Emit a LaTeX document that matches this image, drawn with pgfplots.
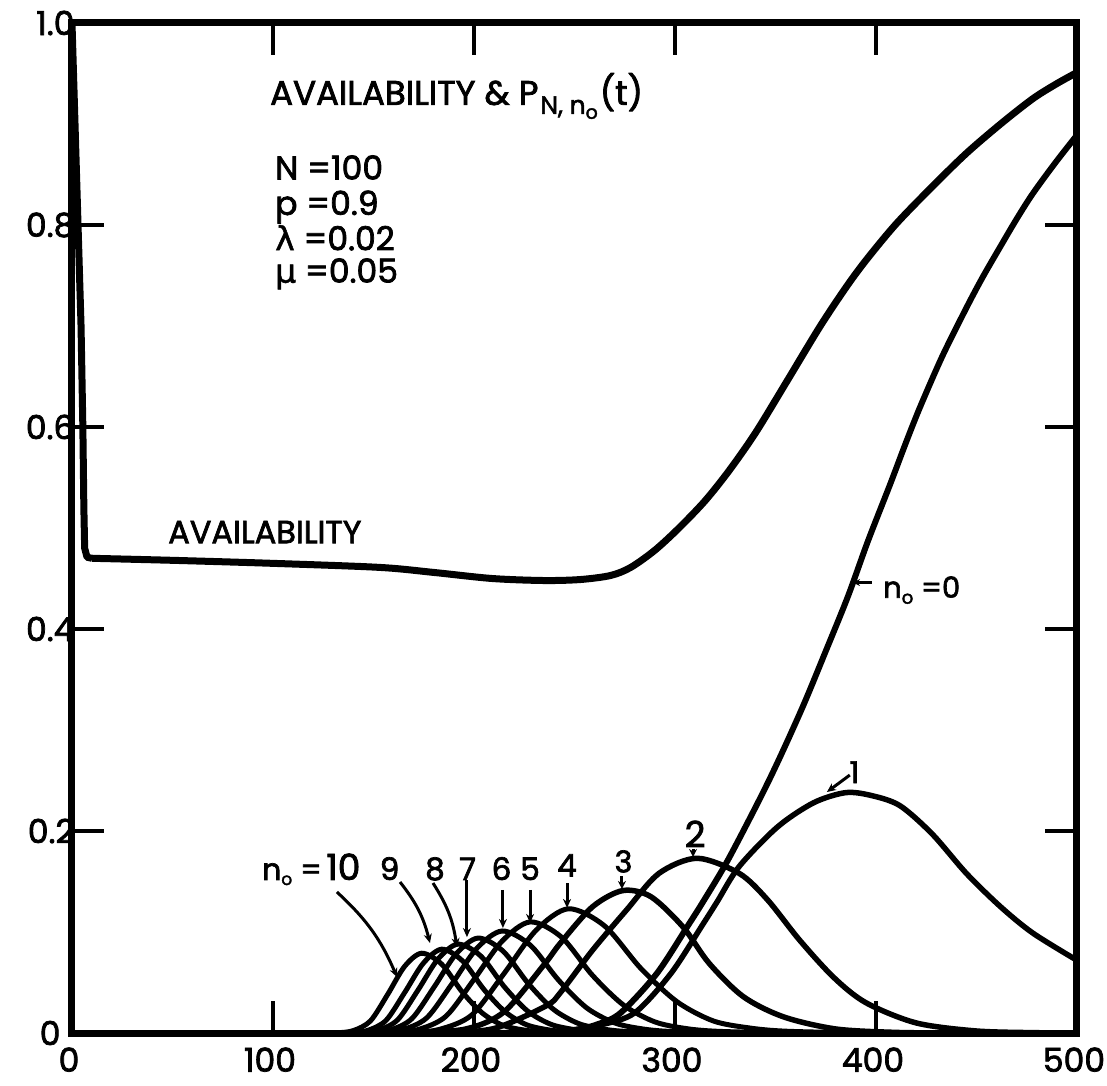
\documentclass[border=0pt]{standalone}
\usepackage{pgfplots}
\pgfplotsset{compat=1.18}
\usepackage{fontspec}
\setmainfont{Poppins}[FakeBold=2.2]
\newfontfamily\grk{DejaVu Sans}[FakeBold=1.5]
\usetikzlibrary{arrows.meta}
\newcommand\fs[1]{\fontsize{#1}{#1}\selectfont}

\pgfplotstableread{
t v
0 1.0
1.5 0.9
3 0.8
4.5 0.7
5.4 0.6
5.9 0.52
6.3 0.48
7.5 0.471
10 0.470
}\availA
\pgfplotstableread{
t v
10 0.470
50 0.468
100 0.465
153 0.461
180 0.456
209 0.450
235 0.448
253 0.449
268 0.453
278 0.461
290 0.478
302 0.500
315 0.527
327 0.557
340 0.594
355 0.643
372 0.699
385 0.738
395 0.765
410 0.801
428 0.838
445 0.871
462 0.900
478 0.925
490 0.940
500 0.951
}\availB
\pgfplotstableread{
t v
200 0
230 0.0005
250 0.003
262 0.009
273 0.020
291 0.059
307 0.108
314 0.130
326 0.170
342 0.231
352 0.272
364 0.325
375 0.378
386 0.432
396 0.487
407 0.543
415 0.585
422 0.620
433 0.670
445 0.718
453 0.748
462 0.779
470 0.806
478 0.831
489 0.861
500 0.889
}\nzero
\pgfplotstableread{
t v
200 0
225 0.0005
245 0.002
263 0.008
280 0.020
298 0.059
314 0.108
321 0.130
332 0.165
351 0.204
369 0.228
385 0.238
398 0.235
412 0.225
428 0.197
445 0.158
462 0.125
478 0.099
500 0.072
}\none
\pgfplotstableread{
t v
170 0
190 0.0005
211 0.005
236 0.027
243 0.040
259 0.082
276 0.122
292 0.158
311 0.173
332 0.158
346 0.132
362 0.092
379 0.055
395 0.030
420 0.010
450 0.002
480 0.0003
500 0
}\ntwo
\pgfplotstableread{
t v
150 0
170 0.0004
196 0.004
215 0.021
235 0.068
243 0.089
259 0.125
274 0.141
288 0.135
304 0.105
317 0.069
334 0.036
354 0.016
380 0.004
410 0.0006
440 0
}\nthree
\pgfplotstableread{
t v
140 0
167 0.0004
183 0.0037
199 0.018
215 0.059
231 0.102
247 0.123
265 0.106
283 0.064
301 0.031
319 0.012
337 0.005
355 0.0018
391 0.0002
420 0
}\nfour
\pgfplotstableread{
t v
135 0
158 0.0003
172 0.0033
186 0.0165
200 0.053
214 0.091
228 0.110
243.5 0.095
259 0.057
274.5 0.0275
290 0.011
305.5 0.0044
321 0.0017
352 0.0002
380 0
}\nfive
\pgfplotstableread{
t v
130 0
151.5 0.0003
164 0.003
176.5 0.015
189 0.0485
201.5 0.084
214 0.101
228 0.087
242 0.0525
256 0.025
270 0.010
284 0.004
298 0.0015
326 0.0002
350 0
}\nsix
\pgfplotstableread{
t v
125 0
147 0.0003
158 0.0028
169 0.014
180 0.045
191 0.078
202 0.094
214.5 0.081
227 0.049
239.5 0.0235
252 0.0094
264.5 0.0038
277 0.0014
302 0.0002
330 0
}\nseven
\pgfplotstableread{
t v
120 0
142 0.0003
152 0.0026
162 0.013
172 0.042
182 0.073
192 0.088
203.5 0.076
215 0.046
226.5 0.022
238 0.0088
249.5 0.0035
261 0.0013
284 0.0002
310 0
}\neight
\pgfplotstableread{
t v
120 0
138 0.0002
147 0.0025
156.25 0.0125
165.5 0.040
174.75 0.069
184 0.083
194.5 0.071
205 0.043
215.5 0.021
226 0.0083
236.5 0.0033
247 0.0012
268 0.0002
290 0
}\nnine
\pgfplotstableread{
t v
117 0
131.5 0.0002
140 0.0024
148.5 0.012
157 0.038
165.5 0.066
174 0.079
184 0.068
194 0.041
204 0.020
214 0.0079
224 0.0032
234 0.0012
254 0.0002
280 0
}\nten

\begin{document}
\begin{tikzpicture}
\useasboundingbox (-72pt,-52pt) rectangle (1035pt,1033pt);
\begin{axis}[
  at={(0pt,0pt)}, anchor=south west,
  scale only axis, width=1005pt, height=1010pt,
  xmin=0, xmax=500, ymin=0, ymax=1,
  xtick={0,100,200,300,400,500},
  xticklabels={\mbox{0},\mbox{100},\mbox{200},\mbox{300},\mbox{400},\mbox{500}},
  ytick={0,0.2,0.4,0.6,0.8,1},
  yticklabels={\mbox{0\kern14pt},\mbox{0.2},\mbox{0.4},\mbox{0.6},\mbox{0.8},\mbox{1.0}},
  tick align=inside, xtick pos=both, ytick pos=both,
  xticklabel pos=lower, yticklabel pos=left,
  major tick length=32pt,
  tick style={black, line width=3.5pt},
  axis line style={line width=7pt, line cap=rect},
  ticklabel style={font=\fs{33}},
  xticklabel style={yshift=-11pt, xshift=-3pt},
  yticklabel style={xshift=6pt},
  clip=true,
]
\addplot[black, line width=7pt, line join=round] table {\availA};
\addplot[black, line width=7pt, smooth, tension=0.5, line join=round] table {\availB};
\addplot[black, line width=6pt, smooth, tension=0.5] table {\nzero};
\addplot[black, line width=5.5pt, smooth, tension=0.5] table {\none};
\addplot[black, line width=5.5pt, smooth, tension=0.5] table {\ntwo};
\addplot[black, line width=5.5pt, smooth, tension=0.5] table {\nthree};
\addplot[black, line width=5pt, smooth, tension=0.5] table {\nfour};
\addplot[black, line width=5pt, smooth, tension=0.5] table {\nfive};
\addplot[black, line width=5pt, smooth, tension=0.5] table {\nsix};
\addplot[black, line width=5pt, smooth, tension=0.5] table {\nseven};
\addplot[black, line width=5pt, smooth, tension=0.5] table {\neight};
\addplot[black, line width=5pt, smooth, tension=0.5] table {\nnine};
\addplot[black, line width=5pt, smooth, tension=0.5] table {\nten};

% texts
\node[anchor=base west, inner sep=0, font=\fs{34}] at (axis cs:98.5,0.919)
  {AVAILABILITY \& P\hspace{2pt}\raisebox{-9pt}{\fs{25}N, n\raisebox{-5pt}{\fs{19}o}}\hspace{2pt}(t)};
\node[anchor=base west, inner sep=0, font=\fs{33}] at (axis cs:101,0.845) {N =100};
\node[anchor=base west, inner sep=0, font=\fs{33}] at (axis cs:101,0.810) {p =0.9};
\node[anchor=base west, inner sep=0, font=\fs{33}] at (axis cs:101,0.775) {{\grk λ} =0.02};
\node[anchor=base west, inner sep=0, font=\fs{33}] at (axis cs:101,0.743) {{\grk μ} =0.05};
\node[anchor=base west, inner sep=0, font=\fs{32}] at (axis cs:47.8,0.485) {AVAILABILITY};

\node[anchor=base west, inner sep=0, font=\fs{29}] at (axis cs:403.5,0.431) {n\raisebox{-6pt}{\fs{18}o} =0};
\draw[line width=3pt, {Stealth[length=7pt,width=7pt]}-] (axis cs:388.6,0.446) -- (axis cs:398,0.446);

\node[anchor=base, inner sep=0, font=\fs{30}] at (axis cs:389.3,0.2475) {1};
\draw[line width=3pt, -{Stealth[length=9pt,width=8pt]}] (axis cs:387,0.2554) -- (axis cs:375.6,0.2386);
\node[anchor=base, inner sep=0, font=\fs{36}] at (axis cs:310,0.184) {2};
\draw[line width=3pt, -{Stealth[length=8pt,width=8pt]}] (axis cs:309,0.1822) -- (axis cs:309,0.1743);
\node[anchor=base, inner sep=0, font=\fs{30}] at (axis cs:274.4,0.159) {3};
\draw[line width=3pt, -{Stealth[length=8pt,width=8pt]}] (axis cs:273.6,0.1554) -- (axis cs:273.6,0.1426);
\node[anchor=base, inner sep=0, font=\fs{31}] at (axis cs:246.3,0.155) {4};
\draw[line width=3pt, -{Stealth[length=9pt,width=8pt]}] (axis cs:246.3,0.1485) -- (axis cs:246.3,0.1238);
\node[anchor=base, inner sep=0, font=\fs{31}] at (axis cs:227.9,0.1515) {5};
\draw[line width=3pt, -{Stealth[length=9pt,width=8pt]}] (axis cs:227.9,0.1416) -- (axis cs:227.9,0.109);
\node[anchor=base, inner sep=0, font=\fs{31}] at (axis cs:213.7,0.1515) {6};
\draw[line width=3pt, -{Stealth[length=9pt,width=8pt]}] (axis cs:214.4,0.1416) -- (axis cs:214.4,0.104);
\node[anchor=base, inner sep=0, font=\fs{31}] at (axis cs:196.8,0.1515) {7};
\draw[line width=3pt, -{Stealth[length=9pt,width=8pt]}] (axis cs:196.5,0.1515) -- (axis cs:196.5,0.095);
\node[anchor=base, inner sep=0, font=\fs{31}] at (axis cs:180.6,0.1515) {8};
\draw[line width=3pt, -{Stealth[length=9pt,width=8pt]}] (axis cs:179.6,0.1485) to[bend left=12] (axis cs:191.5,0.0851);
\node[anchor=base, inner sep=0, font=\fs{31}] at (axis cs:158,0.1515) {9};
\draw[line width=3pt, -{Stealth[length=9pt,width=8pt]}] (axis cs:163.2,0.1495) to[bend left=12] (axis cs:178.1,0.0891);
\node[anchor=base, inner sep=0, font=\fs{36}] at (axis cs:135,0.1515) {10};
\draw[line width=3pt, -{Stealth[length=9pt,width=8pt]}] (axis cs:131.8,0.1396) to[bend left=12] (axis cs:161.7,0.0554);
\node[anchor=base west, inner sep=0, font=\fs{30}] at (axis cs:94.5,0.1515) {n\raisebox{-5pt}{\fs{17}o} =};
\end{axis}
\end{tikzpicture}
\end{document}
